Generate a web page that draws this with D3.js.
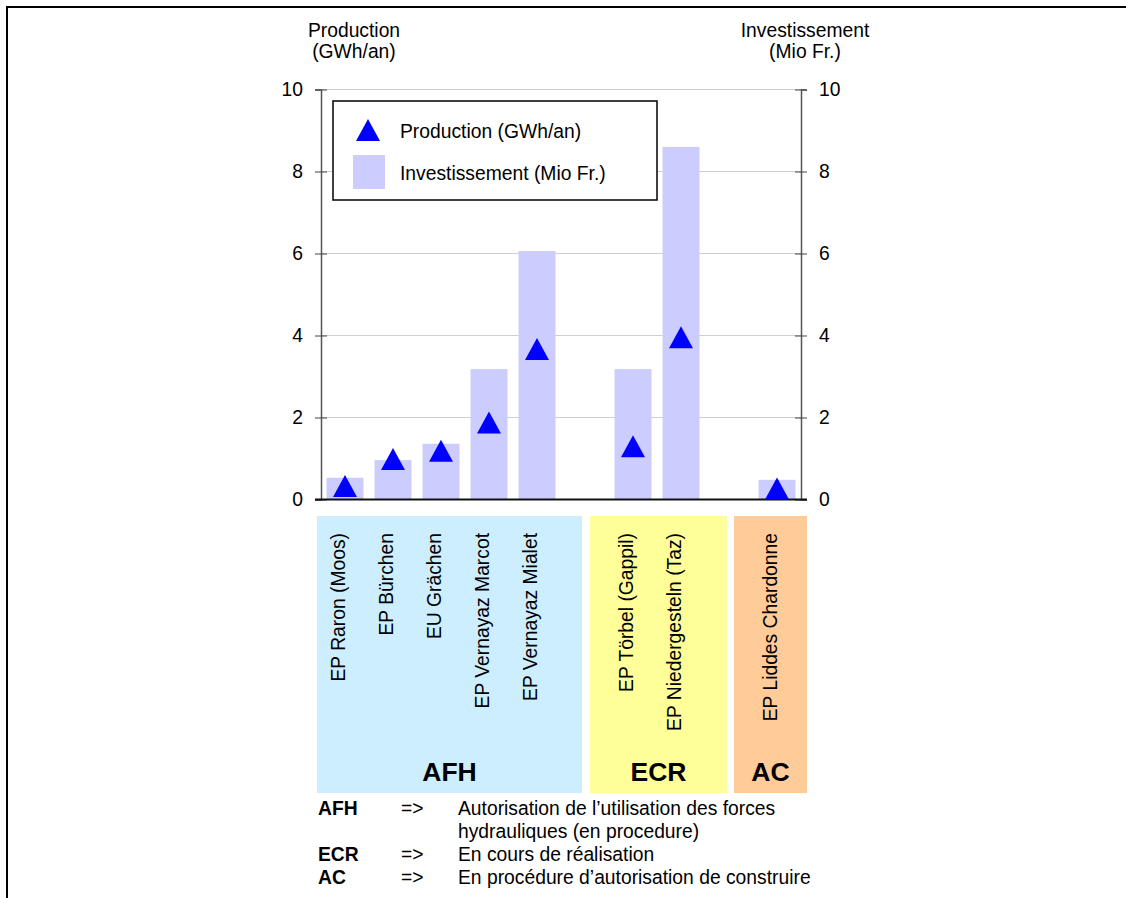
<!DOCTYPE html>
<html>
<head>
<meta charset="utf-8">
<script src="https://cdn.jsdelivr.net/npm/d3@7"></script>
<style>
  body { margin: 0; background: #fff; }
  svg { display: block; font-family: "Liberation Sans", Arial, sans-serif; }
</style>
</head>
<body>
<div id="chart"></div>
<script>
// Chart data
const categories = ["EP Raron (Moos)", "EP Bürchen", "EU Grächen", "EP Vernayaz Marcot",
  "EP Vernayaz Mialet", "EP Törbel (Gappil)", "EP Niedergesteln (Taz)", "EP Liddes Chardonne"];
const slotIndex = [0, 1, 2, 3, 4, 6, 7, 9];           // which of the 10 slots each project sits in
const investment = [0.53, 0.96, 1.36, 3.18, 6.06, 3.18, 8.6, 0.48];   // Mio Fr.
const production = [0.33, 0.99, 1.19, 1.88, 3.67, 1.30, 3.96, 0.27];  // GWh/an
const yTicks = [0, 2, 4, 6, 8, 10];
const groupNames = ["AFH", "ECR", "AC"];
const groupFirst = [0, 6, 9];
const groupLast = [4, 7, 9];
const noteKeys = ["AFH", "", "ECR", "AC"];
const noteTexts = ["Autorisation de l\u2019utilisation des forces", "hydrauliques (en procedure)",
  "En cours de réalisation", "En procédure d\u2019autorisation de construire"];

const W = 1126, H = 898;
const FS = 19.3;
const svg = d3.select("#chart").append("svg").attr("width", W).attr("height", H);

// outer frame
svg.append("path").attr("d", "M7,898 L7,7 L1126,7").attr("fill", "none")
  .attr("stroke", "#000").attr("stroke-width", 2);

const plotLeft = 321, plotRight = 801, plotTop = 89.5, plotBottom = 499.5;

const x = d3.scaleBand().domain(d3.range(10)).range([plotLeft, plotRight]).paddingInner(0.23).paddingOuter(0.115);
const y = d3.scaleLinear().domain([0, 10]).range([plotBottom, plotTop]);
const bw = x.bandwidth();
const step = (plotRight - plotLeft) / 10;
const slotLeft = i => plotLeft + i * step;

// gridlines
svg.append("g").selectAll("line").data(yTicks.filter(d => d > 0)).enter().append("line")
  .attr("x1", plotLeft).attr("x2", plotRight).attr("y1", d => y(d)).attr("y2", d => y(d))
  .attr("stroke", "#cfcfcf").attr("stroke-width", 1);

// bars (investment)
svg.append("g").selectAll("rect").data(investment).enter().append("rect")
  .attr("x", (d, i) => x(slotIndex[i]))
  .attr("y", d => y(d))
  .attr("width", bw)
  .attr("height", d => y(0) - y(d))
  .attr("fill", "#ccccff");

// axes
const axisL = svg.append("g").attr("transform", `translate(${plotLeft},0)`)
  .call(d3.axisLeft(y).tickValues(yTicks).tickSize(6).tickPadding(12).tickFormat(d3.format("d")));
const axisR = svg.append("g").attr("transform", `translate(${plotRight},0)`)
  .call(d3.axisRight(y).tickValues(yTicks).tickSize(6).tickPadding(12).tickFormat(d3.format("d")));
[axisL, axisR].forEach(g => {
  g.select(".domain").attr("stroke", "#555").attr("stroke-width", 1.5);
  g.selectAll(".tick line").attr("stroke", "#444").attr("x1", -6).attr("x2", 6);
  g.selectAll(".tick text").attr("font-size", FS).attr("fill", "#000")
    .attr("font-family", "'Liberation Sans', Arial, sans-serif");
});

// baseline
svg.append("line").attr("x1", plotLeft - 6).attr("x2", plotRight + 6).attr("y1", y(0)).attr("y2", y(0))
  .attr("stroke", "#111").attr("stroke-width", 2);

// production markers
const tri = (cx, cy) => `M${cx - 12},${cy + 11}L${cx},${cy - 11}L${cx + 12},${cy + 11}Z`;
svg.append("g").selectAll("path").data(production).enter().append("path")
  .attr("d", (d, i) => tri(x(slotIndex[i]) + bw / 2, y(d)))
  .attr("fill", "#0000ff");

// axis titles
const titles = [["Production", "(GWh/an)", 354], ["Investissement", "(Mio Fr.)", 805]];
titles.forEach(t => {
  svg.append("text").attr("x", t[2]).attr("y", 37).attr("text-anchor", "middle")
    .attr("font-size", FS).text(t[0]);
  svg.append("text").attr("x", t[2]).attr("y", 58).attr("text-anchor", "middle")
    .attr("font-size", FS).text(t[1]);
});

// legend
const lg = svg.append("g");
lg.append("rect").attr("x", 333).attr("y", 101).attr("width", 324).attr("height", 99)
  .attr("fill", "#fff").attr("stroke", "#000").attr("stroke-width", 1.5);
lg.append("path").attr("d", tri(368, 130)).attr("fill", "#0000ff");
lg.append("rect").attr("x", 353).attr("y", 155).attr("width", 32).attr("height", 34).attr("fill", "#ccccff");
lg.append("text").attr("x", 400).attr("y", 138).attr("font-size", FS).text("Production (GWh/an)");
lg.append("text").attr("x", 400).attr("y", 180).attr("font-size", FS).text("Investissement (Mio Fr.)");

// group panels
const panelColors = ["#cceeff", "#ffff99", "#ffcc99"];
const panelPad = [[4, 21], [19, 22], [19, 6]];
groupNames.forEach((g, k) => {
  const x0 = slotLeft(groupFirst[k]) - panelPad[k][0];
  const x1 = slotLeft(groupLast[k] + 1) + panelPad[k][1];
  svg.append("rect").attr("x", x0).attr("y", 516).attr("width", x1 - x0).attr("height", 277)
    .attr("fill", panelColors[k]);
  svg.append("text").attr("x", (x0 + x1) / 2).attr("y", 781).attr("text-anchor", "middle")
    .attr("font-size", 26.5).attr("font-weight", "bold").text(g);
});

// category labels (rotated)
svg.append("g").selectAll("text").data(categories).enter().append("text")
  .attr("transform", (d, i) => `translate(${x(slotIndex[i]) + bw / 2},533) rotate(-90)`)
  .attr("text-anchor", "end")
  .attr("font-size", FS)
  .text(d => d);

// notes
noteKeys.forEach((k, i) => {
  const yy = 815 + i * 23;
  if (k) {
    svg.append("text").attr("x", 318).attr("y", yy).attr("font-size", FS)
      .attr("font-weight", "bold").text(k);
    svg.append("text").attr("x", 401).attr("y", yy).attr("font-size", FS).text("=>");
  }
  svg.append("text").attr("x", 458).attr("y", yy).attr("font-size", FS).text(noteTexts[i]);
});
</script>
</body>
</html>
